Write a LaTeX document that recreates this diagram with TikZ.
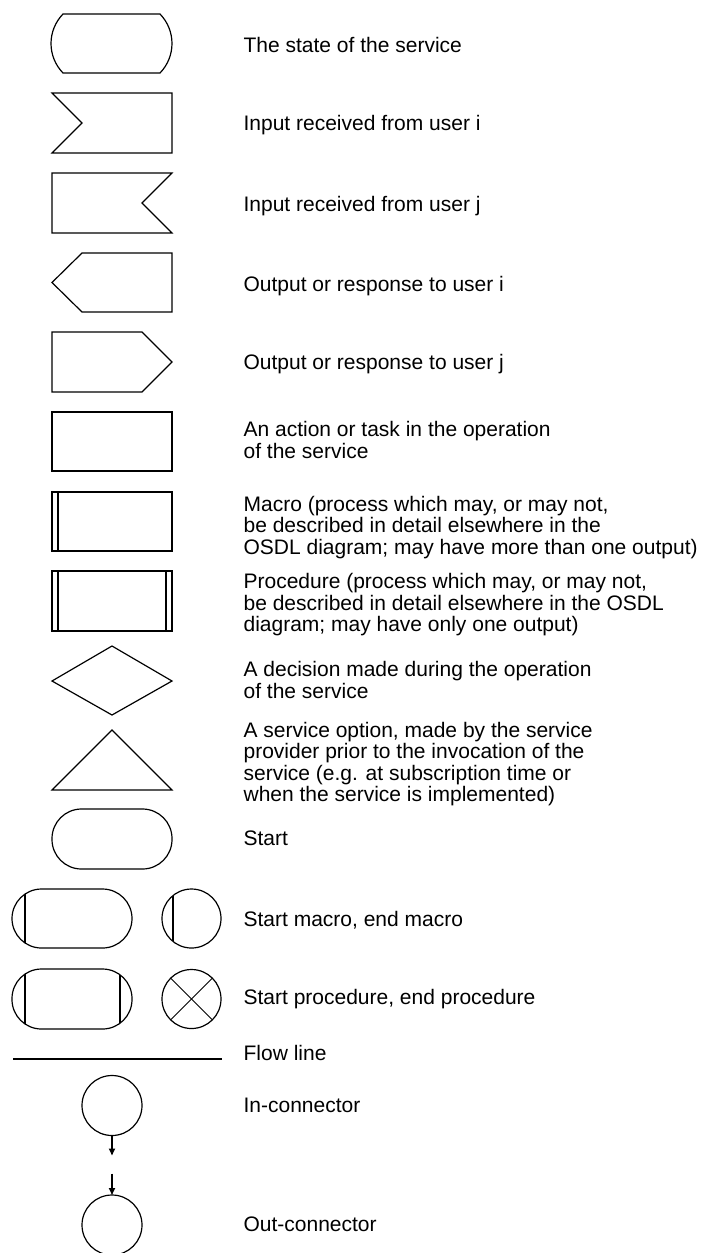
\documentclass[tikz,border=0pt]{standalone}
\usepackage{fontspec}
\setmainfont{Liberation Sans}
\usetikzlibrary{positioning,arrows.meta}

\begin{document}
\begin{tikzpicture}[x=0.5pt,y=-0.5pt,line width=0.6pt,
  lbl/.style={anchor=base west,inner sep=0pt,align=left,font=\fontsize{10.5}{10.75}\selectfont},
  box/.style={draw,minimum width=60pt,minimum height=29.5pt,inner sep=0pt,outer sep=0pt},
  pill/.style={box,rounded corners=14.75pt},
  conn/.style={draw,circle,minimum size=30pt,inner sep=0pt,outer sep=0pt},
  bar/.style={line width=1pt},
  >={Triangle[length=3.5pt,width=3pt]}]
\useasboundingbox (0,0) rectangle (701,1253);
% symbols
\draw (63,14) -- (160,14) to[bend left=44] (160,73) -- (63,73) to[bend left=44] (63,14) -- cycle;
\draw (52,93) -- (172,93) -- (172,153) -- (52,153) -- (82,123) -- cycle;
\draw (52,173) -- (172,173) -- (142,203) -- (172,233) -- (52,233) -- cycle;
\draw (82,253) -- (172,253) -- (172,312) -- (82,312) -- (52,282.5) -- cycle;
\draw (52,332) -- (142,332) -- (172,362) -- (142,392) -- (52,392) -- cycle;
\node [box] (action) at (112,441.5) {};
\node [box] (macro) at (112,521.5) {};
\draw [bar] ([xshift=3pt]macro.north west) -- ([xshift=3pt]macro.south west);
\node [box,minimum height=30pt] (proc) at (112,601) {};
\draw [bar] ([xshift=3pt]proc.north west) -- ([xshift=3pt]proc.south west);
\draw [bar] ([xshift=-3pt]proc.north east) -- ([xshift=-3pt]proc.south east);
\draw (112,646) -- (172,681) -- (112,715) -- (52,681) -- cycle;
\draw (112,730) -- (172,790) -- (52,790) -- cycle;
\node [pill,minimum height=30pt] (start) at (112,839) {};
\node [pill,path picture={
  \draw [bar] ([xshift=6.5pt]path picture bounding box.north west) -- ([xshift=6.5pt]path picture bounding box.south west);
  }] (smacro) at (72,918.5) {};
\node [conn,minimum size=29.5pt,path picture={
  \draw [bar] ([xshift=5.5pt]path picture bounding box.north west) -- ([xshift=5.5pt]path picture bounding box.south west);
  }] (emacro) at (191.5,918.5) {};
\node [pill,minimum height=30pt,path picture={
  \draw [bar] ([xshift=6.5pt]path picture bounding box.north west) -- ([xshift=6.5pt]path picture bounding box.south west);
  \draw [bar] ([xshift=-6pt]path picture bounding box.north east) -- ([xshift=-6pt]path picture bounding box.south east);
  }] (sproc) at (72,999) {};
\node [conn,minimum size=29.5pt,path picture={
  \draw [line width=0.4pt] (path picture bounding box.north west) -- (path picture bounding box.south east);
  \draw [line width=0.4pt] (path picture bounding box.north east) -- (path picture bounding box.south west);
  }] (eproc) at (191.5,999) {};
\draw [line width=0.8pt] (13,1059) -- (222,1059);
\node [conn] (inconn) at (112,1105.5) {};
\coordinate [below=10pt of inconn.south] (inend);
\draw [->,line width=0.8pt] (inconn) -- (inend);
\node [conn] (outconn) at (112,1225) {};
\coordinate [above=10.75pt of outconn.north] (outstart);
\draw [->,line width=0.8pt] (outstart) -- (outconn);
% labels (base = last line)
\node [lbl] (tstate) at (243,52.3) {The state of the service};
\node [lbl] (tini) at (243,130) {Input received from user i};
\node [lbl] (tinj) at (243,211.7) {Input received from user j};
\node [lbl] (touti) at (243,291.7) {Output or response to user i};
\node [lbl] (toutj) at (243,369) {Output or response to user j};
\node [lbl] (taction) at (243,458.3) {An action or task in the operation\\of the service};
\node [lbl] (tmacro) at (243,554) {Macro (process which may, or may not,\\be described in detail elsewhere in the\\OSDL diagram; may have more than one output)};
\node [lbl] (tproc) at (243,631.7) {Procedure (process which may, or may not,\\be described in detail elsewhere in the OSDL\\diagram; may have only one output)};
\node [lbl] (tdec) at (243,698.3) {A decision made during the operation\\of the service};
\node [lbl] (topt) at (243,801.7) {A service option, made by the service\\provider prior to the invocation of the\\service (e.g. at subscription time or\\when the service is implemented)};
\node [lbl] (tstart) at (243,845.7) {Start};
\node [lbl] (tsmacro) at (243,926.7) {Start macro, end macro};
\node [lbl] (tsproc) at (243,1004) {Start procedure, end procedure};
\node [lbl] (tflow) at (243,1060) {Flow line};
\node [lbl] (tin) at (243,1112.7) {In-connector};
\node [lbl] (tout) at (243,1231.7) {Out-connector};
\end{tikzpicture}
\end{document}
